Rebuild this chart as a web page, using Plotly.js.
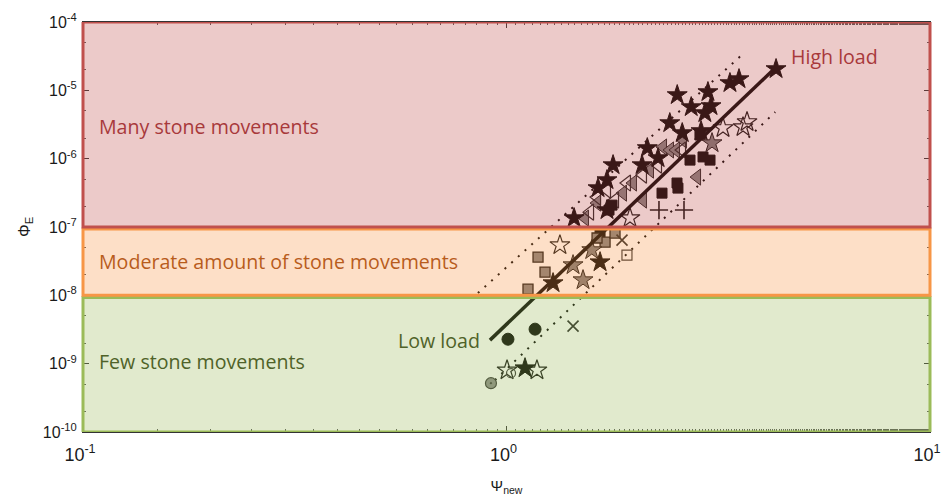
<!DOCTYPE html>
<html>
<head>
<meta charset="utf-8">
<script src="https://cdn.plot.ly/plotly-3.0.1.min.js"></script>
<style>
  html, body { margin: 0; padding: 0; background: #fff; }
  #chart { width: 941px; height: 499px; }
</style>
</head>
<body>
<div id="chart"></div>
<script>
// Ψ_new (x) and Φ_E (y) values, grouped by marker style
const starX = [4.33, 3.54, 3.37, 2.99, 2.53, 3.04, 2.73, 2.94, 2.43, 2.60, 2.88, 2.15, 2.28, 2.09, 1.785, 1.727, 1.645, 1.727, 1.444, 1.663, 1.288, 1.106];
const starY = [2.05e-5, 1.46e-5, 1.28e-5, 9.44e-6, 8.53e-6, 5.89e-6, 5.69e-6, 4.65e-6, 3.32e-6, 2.37e-6, 2.54e-6, 1.43e-6, 1.02e-6, 8.05e-7, 8.05e-7, 4.86e-7, 3.71e-7, 1.77e-7, 1.35e-7, 3.06e-8, 1.51e-8, 8.6e-10];

const openStarX = [3.245, 3.698, 3.618, 1.957, 1.337, 1.003, 1.18];
const openStarY = [2.81e-6, 3.44e-6, 2.90e-6, 1.35e-7, 5.43e-8, 8.0e-10, 8.0e-10];

const grayStarX = [3.057, 1.516, 1.436, 1.59];
const grayStarY = [1.69e-6, 1.67e-8, 2.77e-8, 4.6e-8];

const triX = [1.532, 1.636, 1.884, 1.989, 2.10, 2.342, 2.433, 2.611, 2.818, 2.182, 2.513];
const triY = [1.35e-7, 2.24e-7, 3.13e-7, 4.40e-7, 2.48e-7, 1.48e-6, 1.34e-6, 1.87e-6, 5.38e-7, 6.8e-7, 1.34e-6];

const openTriX = [1.636, 1.727, 1.925, 2.10, 1.804, 2.279, 2.597, 1.575];
const openTriY = [2.74e-7, 3.47e-7, 4.40e-7, 5.75e-7, 2.48e-7, 8.05e-7, 1.34e-6, 1.65e-7];

const squareX = [1.746, 1.775, 2.329, 2.527, 2.54, 2.911, 3.024, 2.712, 1.663, 2.863];
const squareY = [1.77e-7, 2.09e-7, 3.13e-7, 4.40e-7, 3.71e-7, 1.06e-6, 9.53e-7, 9.53e-7, 8.41e-8, 2.22e-6];

const graySquareX = [1.187, 1.233, 1.124, 1.709, 1.636, 1.804];
const graySquareY = [3.63e-8, 2.19e-8, 1.23e-8, 6.0e-8, 6.9e-8, 8.15e-8];

const openSquareX = [1.925];
const openSquareY = [3.88e-8];

const plusX = [2.291, 2.625];
const plusY = [1.77e-7, 1.77e-7];

const crossX = [1.436, 1.874];
const crossY = [3.54e-9, 6.43e-8];

const dotX = [1.008, 1.168];
const dotY = [2.28e-9, 3.2e-9];

const openCircleX = [1.025];
const openCircleY = [7.26e-10];

const grayCircleX = [0.919];
const grayCircleY = [5.18e-10];

// fitted trend and its upper / lower bands
const fitX = [0.914, 4.26];
const fitY = [2.21e-9, 1.98e-5];
const upperX = [0.856, 3.66];
const upperY = [1.08e-8, 3.64e-5];
const lowerX = [0.939, 4.31];
const lowerY = [5.73e-10, 4.81e-6];

// axis ticks
const xTickVals = [0.1, 1, 10];
const xTickText = ['10<sup>-1</sup>', '10<sup>0</sup>', '10<sup>1</sup>'];
const yTickVals = [1e-10, 1e-9, 1e-8, 1e-7, 1e-6, 1e-5, 1e-4];
const yTickText = ['10<sup>-10</sup>', '10<sup>-9</sup>', '10<sup>-8</sup>', '10<sup>-7</sup>', '10<sup>-6</sup>', '10<sup>-5</sup>', '10<sup>-4</sup>'];

function pts(x, y, symbol, size, fill, line, lw) {
  return {
    x: x, y: y, type: 'scatter', mode: 'markers', hoverinfo: 'skip',
    marker: { symbol: symbol, size: size, color: fill, line: { color: line, width: lw } }
  };
}

const band = (x, y) => ({
  x: x, y: y, type: 'scatter', mode: 'lines', hoverinfo: 'skip',
  line: { color: '#000', width: 2, dash: '2px,7px' }
});

const traces = [
  band(upperX, upperY),
  band(lowerX, lowerY),
  pts(triX, triY, 'triangle-left', 14, '#858585', '#222', 1),
  pts(openTriX, openTriY, 'triangle-left-open', 14, '#222', '#222', 1.2),
  pts(squareX, squareY, 'square', 10, '#000', '#000', 1),
  pts(graySquareX, graySquareY, 'square', 10, '#808080', '#111', 1.3),
  pts(openSquareX, openSquareY, 'square-open', 10, '#333', '#333', 1.2),
  pts(plusX, plusY, 'cross-thin', 13, '#111', '#111', 1.6),
  pts(crossX, crossY, 'x-thin', 11, '#222', '#222', 1.6),
  pts(grayStarX, grayStarY, 'star', 15, '#7a7a7a', '#111', 1),
  pts(openStarX, openStarY, 'star-open', 15, '#111', '#111', 1.2),
  pts(starX, starY, 'star', 15, '#000', '#000', 1),
  pts(dotX, dotY, 'circle', 12, '#000', '#000', 1),
  pts(openCircleX, openCircleY, 'circle-open', 9, '#333', '#333', 1.2),
  pts(grayCircleX, grayCircleY, 'circle-dot', 11, '#8c8c8c', '#333', 1.2),
  {
    x: fitX, y: fitY, type: 'scatter', mode: 'lines', hoverinfo: 'skip',
    line: { color: '#000', width: 3.5 }
  }
];

// translucent zones drawn over the data
function zone(y0, y1, rgb) {
  return {
    type: 'rect', layer: 'above', xref: 'paper', yref: 'y',
    x0: 0, x1: 1, y0: y0, y1: y1,
    fillcolor: 'rgba(' + rgb + ',0.3)',
    line: { color: 'rgb(' + rgb + ')', width: 3 }
  };
}

const shapes = [
  zone(1e-10, Math.pow(10, -8.03), '155,187,89'),
  zone(1e-8, Math.pow(10, -7.03), '247,150,70'),
  zone(1e-7, 1e-4, '192,80,77')
];

const labelFont = (c) => ({ family: 'Open Sans, sans-serif', size: 19.6, color: c });

const annotations = [
  { text: 'Many stone movements', x: 0.017, y: 0.744, font: labelFont('#a8393b') },
  { text: 'Moderate amount of stone movements', x: 0.016, y: 0.415, font: labelFont('#b85c1c') },
  { text: 'Few stone movements', x: 0.017, y: 0.171, font: labelFont('#4f6228') },
  { text: 'Low load', x: 0.370, y: 0.222, font: labelFont('#4f6228') },
  { text: 'High load', x: 0.833, y: 0.915, font: labelFont('#a8393b') }
].map(a => Object.assign(a, { xref: 'paper', yref: 'paper', xanchor: 'left', yanchor: 'middle', showarrow: false }));

const axisCommon = {
  type: 'log',
  showgrid: false,
  zeroline: false,
  showline: true,
  linecolor: '#333',
  linewidth: 1,
  mirror: 'ticks',
  ticks: 'inside',
  ticklen: 6,
  tickcolor: '#333',
  ticklabeloverflow: 'allow',
  minor: { ticks: 'inside', ticklen: 3, tickcolor: '#555', showgrid: false }
};

const layout = {
  width: 941,
  height: 499,
  margin: { l: 83, r: 11, t: 22, b: 67 },
  paper_bgcolor: '#fff',
  plot_bgcolor: '#fff',
  showlegend: false,
  xaxis: Object.assign({}, axisCommon, {
    range: [-1, 1],
    tickvals: xTickVals,
    ticktext: xTickText,
    tickfont: { family: 'Liberation Sans, Arial, sans-serif', size: 18, color: '#1a1a1a' },
    ticklabelstandoff: 6,
    ticklabelshift: -3,
    title: { text: 'Ψ<sub>new</sub>', font: { family: 'Liberation Sans, Arial, sans-serif', size: 15, color: '#1a1a1a' }, standoff: 16 }
  }),
  yaxis: Object.assign({}, axisCommon, {
    range: [-10, -4],
    tickvals: yTickVals,
    ticktext: yTickText,
    tickfont: { family: 'Liberation Sans, Arial, sans-serif', size: 16, color: '#1a1a1a' },
    ticklabelstandoff: 2,
    title: { text: 'Φ<sub>E</sub>', font: { family: 'Liberation Sans, Arial, sans-serif', size: 16, color: '#1a1a1a' }, standoff: 8 }
  }),
  shapes: shapes,
  annotations: annotations
};

Plotly.newPlot('chart', traces, layout, { staticPlot: true, displayModeBar: false });
</script>
</body>
</html>
